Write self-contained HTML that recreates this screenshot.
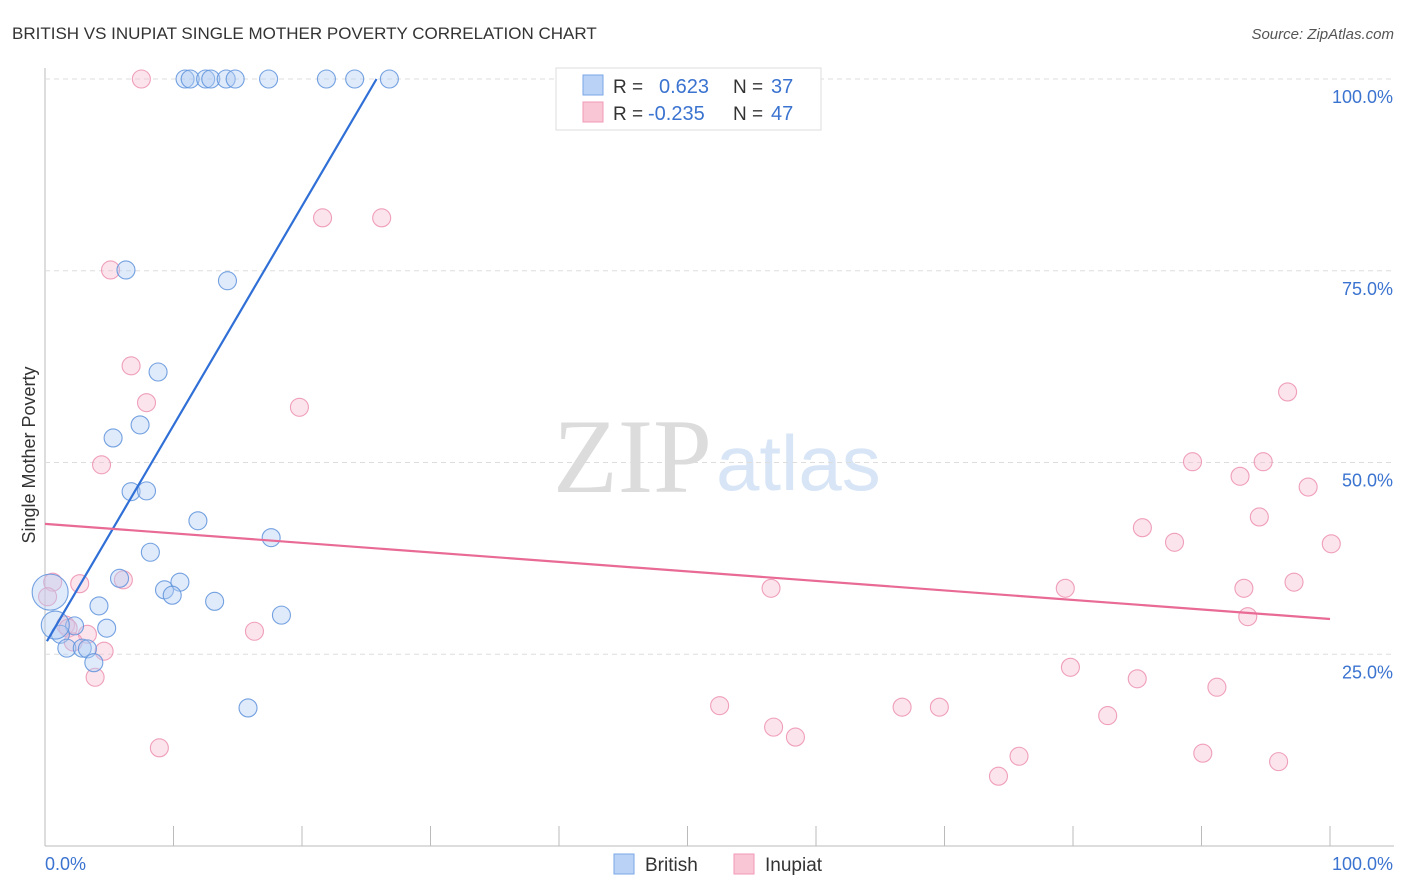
<!DOCTYPE html>
<html><head><meta charset="utf-8"><style>
body{margin:0;background:#fff;font-family:"Liberation Sans",sans-serif;}
svg{display:block}
</style></head><body>
<svg id="c" width="1406" height="892">
<text x="12" y="39" font-size="17" fill="#333">BRITISH VS INUPIAT SINGLE MOTHER POVERTY CORRELATION CHART</text>
<text x="1394" y="39" font-size="15" fill="#555" font-style="italic" text-anchor="end">Source: ZipAtlas.com</text>
<text x="35" y="455" font-size="18" fill="#333" text-anchor="middle" transform="rotate(-90 35 455)">Single Mother Poverty</text>
<text x="553" y="492" font-size="106" fill="#dcdcdc" font-family="Liberation Serif,serif">ZIP</text>
<text x="716" y="490" font-size="78" fill="#d8e5f6">atlas</text>
<g id="grid"></g><g id="pts"></g><g id="lines"></g>
<g>
<rect x="556" y="68" width="265" height="62" fill="#fff" stroke="#ddd"/>
<rect x="583" y="75" width="20" height="20" fill="#b9d2f5" stroke="#7aa6e6"/>
<rect x="583" y="102" width="20" height="20" fill="#f9c6d6" stroke="#f19ab6"/>
<text x="613" y="93" font-size="19" fill="#333">R =</text><text x="659" y="93" font-size="20" fill="#3b73d0">0.623</text>
<text x="733" y="93" font-size="19" fill="#333">N =</text><text x="771" y="93" font-size="20" fill="#3b73d0">37</text>
<text x="613" y="120" font-size="19" fill="#333">R =</text><text x="648" y="120" font-size="20" fill="#3b73d0">-0.235</text>
<text x="733" y="120" font-size="19" fill="#333">N =</text><text x="771" y="120" font-size="20" fill="#3b73d0">47</text>
</g>
<g>
<rect x="614" y="854" width="20" height="20" fill="#b9d2f5" stroke="#7aa6e6"/><text x="645" y="871" font-size="19" fill="#333">British</text>
<rect x="734" y="854" width="20" height="20" fill="#f9c6d6" stroke="#f19ab6"/><text x="765" y="871" font-size="19" fill="#333">Inupiat</text>
</g>
<text x="45" y="870" font-size="18" fill="#3b73d0">0.0%</text>
<text x="1393" y="870" font-size="18" fill="#3b73d0" text-anchor="end">100.0%</text>
</svg>
<script>
const yTicks=[25,50,75,100];
const britishX=[10.9,11.3,12.5,12.9,14.1,14.8,17.4,21.9,24.1,26.8,6.3,14.2,8.8,7.4,5.3,6.7,7.9,11.9,8.2,17.6,5.8,9.3,10.5,9.9,13.2,4.2,18.4,4.8,2.3,1.2,1.7,2.9,3.3,3.8,15.8,0.4,0.8];
const britishY=[100,100,100,100,100,100,100,100,100,100,75.1,73.7,61.8,54.9,53.2,46.2,46.3,42.4,38.3,40.2,34.9,33.4,34.4,32.7,31.9,31.3,30.1,28.4,28.7,27.6,25.8,25.8,25.7,23.9,18.0,33.1,28.8];
const inupiatX=[7.5,21.6,26.2,5.1,6.7,7.9,19.8,4.4,0.6,2.7,6.1,0.2,1.6,1.8,3.3,2.2,4.6,3.9,16.3,8.9,56.5,52.5,56.7,58.4,66.7,69.6,74.2,75.8,79.4,79.8,82.7,85.0,85.4,87.9,89.3,90.1,91.2,93.0,93.3,93.6,94.5,94.8,96.0,96.7,97.2,98.3,100.1];
const inupiatY=[100,81.9,81.9,75.1,62.6,57.8,57.2,49.7,34.4,34.2,34.7,32.5,28.8,28.4,27.6,26.6,25.4,22.0,28.0,12.8,33.6,18.3,15.5,14.2,18.1,18.1,9.1,11.7,33.6,23.3,17.0,21.8,41.5,39.6,50.1,12.1,20.7,48.2,33.6,29.9,42.9,50.1,11.0,59.2,34.4,46.8,39.4];
const britishTrend=[[0.15,26.7],[25.8,100]];
const inupiatTrend=[[0,42.0],[100,29.6]];
const NS="http://www.w3.org/2000/svg";
const sx=v=>45+v*12.85, sy=v=>846-v*7.67;
function mk(t,a,p){const e=document.createElementNS(NS,t);for(const k in a)e.setAttribute(k,a[k]);document.getElementById(p).appendChild(e);return e;}
mk('line',{x1:45,x2:45,y1:68,y2:846,stroke:'#bbb'},'grid');
mk('line',{x1:45,x2:1394,y1:846,y2:846,stroke:'#bbb'},'grid');
for(let i=0;i<=10;i++){const l=mk('line',{x1:sx(i*10),x2:sx(i*10),y1:826,y2:846,stroke:'#bbb'},'grid');

}
yTicks.forEach(t=>{const l=mk('line',{x1:45,x2:1394,y1:sy(t),y2:sy(t),stroke:'#ddd','stroke-dasharray':'5,4'},'grid');


const tx=mk('text',{x:1393,y:sy(t)+24,'font-size':18,fill:'#3b73d0','text-anchor':'end'},'grid');tx.textContent=t.toFixed(1)+'%';

});
function pts(X,Y,f,s,name){X.forEach((x,i)=>{let r=9;if(name==='british-point'&&i===35)r=18;if(name==='british-point'&&i===36)r=14;
const c=mk('circle',{cx:sx(x),cy:sy(Y[i]),r:r,fill:f,'fill-opacity':0.42,stroke:s,'stroke-width':1.1,'stroke-opacity':0.85},'pts');

});}
pts(inupiatX,inupiatY,'#f7bfd2','#ec8fb0','inupiat-point');
pts(britishX,britishY,'#b3cdf2','#5d92dc','british-point');
const b=mk('line',{x1:sx(britishTrend[0][0]),y1:sy(britishTrend[0][1]),x2:sx(britishTrend[1][0]),y2:sy(britishTrend[1][1]),stroke:'#2f6fd6','stroke-width':2.2},'lines');


const p=mk('line',{x1:sx(inupiatTrend[0][0]),y1:sy(inupiatTrend[0][1]),x2:sx(inupiatTrend[1][0]),y2:sy(inupiatTrend[1][1]),stroke:'#e86a95','stroke-width':2.2},'lines');


</script>
</body></html>
